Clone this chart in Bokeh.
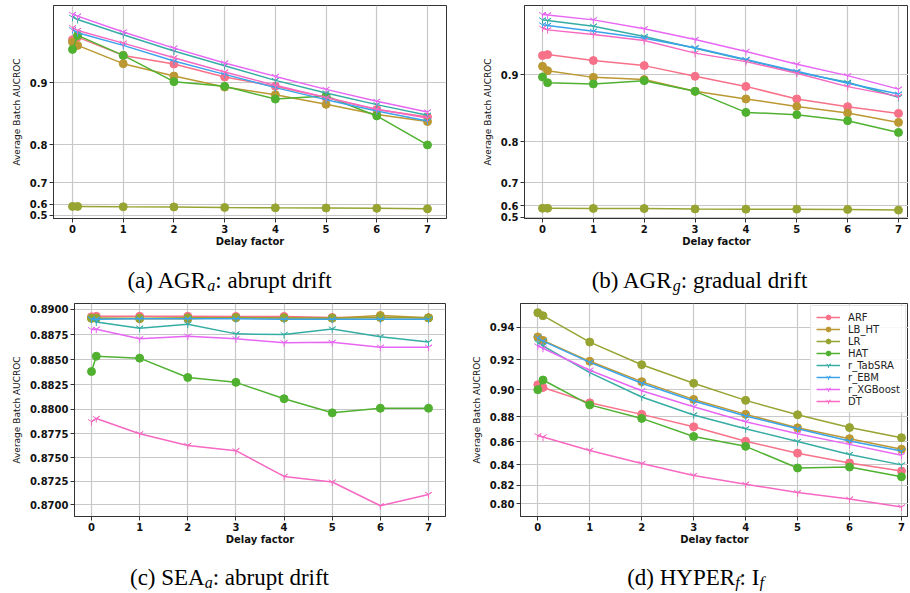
from bokeh.plotting import figure
from bokeh.models import (ColumnDataSource, Range1d, FixedTicker, CustomJSTickFormatter,
                          CustomJSTransform, Label, Legend, LegendItem)
from bokeh.layouts import row, column
from bokeh.transform import transform
from bokeh.embed import file_html
from bokeh.resources import INLINE

# ---------------- data ----------------
delay_factor = [0, 0.1, 1, 2, 3, 4, 5, 6, 7]
x_ticks = [0, 1, 2, 3, 4, 5, 6, 7]
models = ["ARF", "LB_HT", "LR", "HAT", "r_TabSRA", "r_EBM", "r_XGBoost", "DT"]
colors = ["#f77189", "#bb9832", "#97a431", "#50b131", "#36ada4", "#3ba3ec", "#e866f4", "#f668c2"]
markers = ["circle", "circle", "circle", "circle", "y", "y", "y", "y"]

# (a) AGR_a : abrupt drift
agr_a_arf = [0.9495, 0.9522, 0.9326, 0.9227, 0.9071, 0.8952, 0.8799, 0.8623, 0.8508]
agr_a_lbht = [0.9470, 0.9435, 0.9232, 0.9083, 0.8942, 0.8839, 0.8702, 0.8546, 0.8432]
agr_a_lr = [0.585, 0.585, 0.582, 0.581, 0.577, 0.574, 0.573, 0.570, 0.566]
agr_a_hat = [0.9392, 0.9539, 0.9326, 0.9013, 0.8952, 0.8778, 0.8821, 0.8524, 0.8000]
agr_a_tabsra = [0.9718, 0.9696, 0.9546, 0.9374, 0.9208, 0.9029, 0.8863, 0.8698, 0.8535]
agr_a_ebm = [0.9596, 0.9566, 0.9435, 0.9262, 0.9104, 0.8935, 0.8770, 0.8601, 0.8442]
agr_a_xgb = [0.9744, 0.9728, 0.9573, 0.9406, 0.9239, 0.9079, 0.8912, 0.8746, 0.8587]
agr_a_dt = [0.9616, 0.9589, 0.9459, 0.9300, 0.9132, 0.8965, 0.8799, 0.8629, 0.8490]

# (b) AGR_g : gradual drift
agr_g_arf = [0.9217, 0.9227, 0.9162, 0.9105, 0.8980, 0.8855, 0.8689, 0.8580, 0.8481]
agr_g_lbht = [0.9097, 0.9047, 0.8967, 0.8940, 0.8791, 0.8689, 0.8584, 0.8487, 0.8340]
agr_g_lr = [0.583, 0.583, 0.582, 0.581, 0.578, 0.577, 0.577, 0.575, 0.570]
agr_g_hat = [0.8972, 0.8902, 0.8886, 0.8927, 0.8791, 0.8496, 0.8461, 0.8367, 0.8171]
agr_g_tabsra = [0.9575, 0.9569, 0.9515, 0.9414, 0.9295, 0.9169, 0.9027, 0.8906, 0.8711]
agr_g_ebm = [0.9528, 0.9522, 0.9467, 0.9397, 0.9299, 0.9173, 0.9039, 0.8894, 0.8755]
agr_g_xgb = [0.9624, 0.9621, 0.9575, 0.9490, 0.9384, 0.9260, 0.9120, 0.8988, 0.8820]
agr_g_dt = [0.9496, 0.9480, 0.9434, 0.9374, 0.9243, 0.9150, 0.9016, 0.8852, 0.8724]

# (c) SEA_a : abrupt drift
sea_a_arf = [0.88925, 0.88930, 0.88930, 0.88930, 0.88928, 0.88928, 0.88918, 0.88920, 0.88916]
sea_a_lbht = [0.88912, 0.88912, 0.88905, 0.88905, 0.88918, 0.88915, 0.88912, 0.88938, 0.88915]
sea_a_lr = [0.88910, 0.88910, 0.88912, 0.88915, 0.88916, 0.88914, 0.88912, 0.88918, 0.88914]
sea_a_hat = [0.88382, 0.88535, 0.88516, 0.88322, 0.88273, 0.88107, 0.87963, 0.88010, 0.88010]
sea_a_tabsra = [0.88905, 0.88875, 0.88813, 0.88852, 0.88757, 0.88750, 0.88806, 0.88728, 0.88676]
sea_a_ebm = [0.88900, 0.88900, 0.88905, 0.88905, 0.88905, 0.88900, 0.88900, 0.88900, 0.88900]
sea_a_xgb = [0.88799, 0.88803, 0.88708, 0.88734, 0.88708, 0.88670, 0.88673, 0.88625, 0.88625]
sea_a_dt = [0.87872, 0.87905, 0.87747, 0.87627, 0.87572, 0.87302, 0.87243, 0.86990, 0.87111]

# (d) HYPER_f : I_f
hyper_f_arf = [0.9034, 0.9016, 0.8906, 0.8820, 0.8723, 0.8605, 0.8503, 0.8415, 0.8339]
hyper_f_lbht = [0.9343, 0.9322, 0.9191, 0.9056, 0.8931, 0.8820, 0.8715, 0.8627, 0.8538]
hyper_f_lr = [0.9485, 0.9468, 0.9312, 0.9169, 0.9045, 0.8924, 0.8817, 0.8717, 0.8635]
hyper_f_hat = [0.9000, 0.9067, 0.8891, 0.8789, 0.8645, 0.8562, 0.8368, 0.8377, 0.8284]
hyper_f_tabsra = [0.9308, 0.9288, 0.9117, 0.8948, 0.8815, 0.8708, 0.8603, 0.8491, 0.8397]
hyper_f_ebm = [0.9339, 0.9318, 0.9184, 0.9045, 0.8919, 0.8807, 0.8708, 0.8608, 0.8521]
hyper_f_xgb = [0.9288, 0.9274, 0.9133, 0.8993, 0.8877, 0.8763, 0.8667, 0.8579, 0.8485]
hyper_f_dt = [0.8651, 0.8640, 0.8527, 0.8409, 0.8297, 0.8210, 0.8123, 0.8053, 0.7965]

yticks_agr = [0.5, 0.6, 0.7, 0.8, 0.9]
yticks_sea = [0.8700, 0.8725, 0.8750, 0.8775, 0.8800, 0.8825, 0.8850, 0.8875, 0.8900]
yticks_hyper = [0.80, 0.82, 0.84, 0.86, 0.88, 0.90, 0.92, 0.94]

# ---------------- helpers ----------------
# the y axes use a power-5 scale (as in the original figure)
pow5 = CustomJSTransform(func="return Math.pow(x, 5)",
                         v_func="return xs.map((v) => Math.pow(v, 5))")

REG = {'(': 333, ')': 333, ' ': 250, 'a': 444, 'b': 500, 'c': 444, 'd': 500, 'A': 722,
       'G': 722, 'R': 667, 'S': 556, 'E': 611, 'H': 722, 'Y': 722, 'P': 556, 'I': 333,
       ':': 278, 'r': 333, 'u': 500, 'p': 500, 't': 278, 'i': 278, 'f': 333, 'g': 500,
       'l': 278, 'e': 444}
ITA = {'a': 500, 'g': 500, 'f': 278}
CAP_SIZE = 23
SUB_SIZE = 16


def text_width(s, italic):
    tbl = ITA if italic else REG
    size = SUB_SIZE if italic else CAP_SIZE
    return sum(tbl.get(ch, 500) for ch in s) / 1000.0 * size


def caption_fig(width, height, parts, center_x, center_from_bottom):
    c = figure(width=width, height=height, output_backend="svg", toolbar_location=None,
               title=None, x_range=Range1d(0, width), y_range=Range1d(0, height),
               x_axis_type=None, y_axis_type=None,
               min_border_left=0, min_border_right=0, min_border_top=0, min_border_bottom=0)
    c.outline_line_color = None
    c.xgrid.visible = False
    c.ygrid.visible = False
    c.background_fill_color = "white"
    c.border_fill_color = "white"
    total = sum(text_width(s, it) for s, it in parts)
    x = center_x - total / 2.0
    for s, it in parts:
        c.add_layout(Label(x=x, y=center_from_bottom - (5.9 if it else 0),
                           text=s, text_font="Liberation Serif",
                           text_font_size=f"{SUB_SIZE if it else CAP_SIZE}px",
                           text_font_style="italic" if it else "normal",
                           text_align="left", text_baseline="middle", text_color="black"))
        x += text_width(s, it)
    return c


def make_panel(width, height, borders, xr, ylim, yticks, ydec, series, legend=False):
    bl, br, bt, bb = borders
    p = figure(width=width, height=height, output_backend="svg", toolbar_location=None,
               title=None, x_range=Range1d(*xr),
               y_range=Range1d(ylim[0] ** 5, ylim[1] ** 5),
               min_border_left=bl, min_border_right=br, min_border_top=bt, min_border_bottom=bb)
    p.background_fill_color = "white"
    p.border_fill_color = "white"
    p.outline_line_color = "#333333"
    p.outline_line_width = 1
    xa, ya = p.xaxis[0], p.yaxis[0]
    xa.ticker = FixedTicker(ticks=x_ticks)
    ya.ticker = FixedTicker(ticks=[t ** 5 for t in yticks])
    ya.formatter = CustomJSTickFormatter(code=f"return Math.pow(tick, 0.2).toFixed({ydec});")
    for ax in (xa, ya):
        ax.major_label_text_font = "DejaVu Sans"
        ax.major_label_text_font_style = "bold"
        ax.major_label_text_font_size = "10px"
        ax.major_label_text_color = "#111111"
        ax.axis_line_color = "#333333"
        ax.major_tick_line_color = "#333333"
        ax.major_tick_out = 4
        ax.major_tick_in = 0
        ax.minor_tick_line_color = None
        ax.major_label_standoff = 2
        ax.axis_label_text_font = "DejaVu Sans"
        ax.axis_label_text_color = "#111111"
    xa.axis_label = "Delay factor"
    xa.axis_label_text_font_style = "bold"
    xa.axis_label_text_font_size = "10px"
    xa.axis_label_standoff = 0
    ya.axis_label = "Average Batch AUCROC"
    ya.axis_label_text_font_style = "normal"
    ya.axis_label_text_font_size = "9px"
    ya.axis_label_standoff = 5
    for g in (p.xgrid[0], p.ygrid[0]):
        g.grid_line_color = "#c8c8c8"
        g.grid_line_width = 1.2

    data = {"x": delay_factor}
    for m, vals in zip(models, series):
        data[m] = vals
    src = ColumnDataSource(data)
    items = []
    for m, c, mk in zip(models, colors, markers):
        yspec = transform(m, pow5)
        r1 = p.line("x", yspec, source=src, line_color=c, line_width=1.5)
        if mk == "circle":
            r2 = p.scatter("x", yspec, source=src, marker="circle", size=8,
                           fill_color=c, line_color=c)
        else:
            r2 = p.scatter("x", yspec, source=src, marker="y", size=8,
                           line_color=c, line_width=1.0)
        items.append(LegendItem(label=m, renderers=[r1, r2]))
    if legend:
        leg = Legend(items=items, location="top_right", margin=2, padding=5, spacing=0,
                     glyph_width=24, glyph_height=12, label_height=12, label_standoff=8,
                     label_text_font="DejaVu Sans", label_text_font_size="10px",
                     label_text_color="#222222",
                     border_line_color="#cccccc", border_line_width=1,
                     background_fill_color="white", background_fill_alpha=0.85)
        p.add_layout(leg)
    return p


# ---------------- panels ----------------
pa = make_panel(455, 252, (53, 9, 5, 33), (-0.375, 7.375), (0.4446, 0.9826), yticks_agr, 1,
                [agr_a_arf, agr_a_lbht, agr_a_lr, agr_a_hat, agr_a_tabsra, agr_a_ebm, agr_a_xgb, agr_a_dt])
pb = make_panel(453, 252, (69, 0, 5, 34), (-0.354, 7.197), (0.4866, 0.97053), yticks_agr, 1,
                [agr_g_arf, agr_g_lbht, agr_g_lr, agr_g_hat, agr_g_tabsra, agr_g_ebm, agr_g_xgb, agr_g_dt])
pc = make_panel(455, 252, (74, 10, 2, 33), (-0.353, 7.353), (0.86875, 0.89055), yticks_sea, 4,
                [sea_a_arf, sea_a_lbht, sea_a_lr, sea_a_hat, sea_a_tabsra, sea_a_ebm, sea_a_xgb, sea_a_dt])
pd_ = make_panel(453, 252, (65, 0, 5, 34), (-0.333, 7.135), (0.7853, 0.9537), yticks_hyper, 2,
                 [hyper_f_arf, hyper_f_lbht, hyper_f_lr, hyper_f_hat, hyper_f_tabsra, hyper_f_ebm,
                  hyper_f_xgb, hyper_f_dt], legend=True)

cap_a = caption_fig(455, 46, [("(a) AGR", False), ("a", True), (": abrupt drift", False)], 229, 18.5)
cap_b = caption_fig(453, 46, [("(b) AGR", False), ("g", True), (": gradual drift", False)], 244, 18.5)
cap_c = caption_fig(455, 41, [("(c) SEA", False), ("a", True), (": abrupt drift", False)], 229, 14.5)
cap_d = caption_fig(453, 41, [("(d) HYPER", False), ("f", True), (": I", False), ("f", True)], 240, 14.5)

layout = column(row(pa, pb), row(cap_a, cap_b), row(pc, pd_), row(cap_c, cap_d))

open("out.html", "w").write(file_html(layout, INLINE))
